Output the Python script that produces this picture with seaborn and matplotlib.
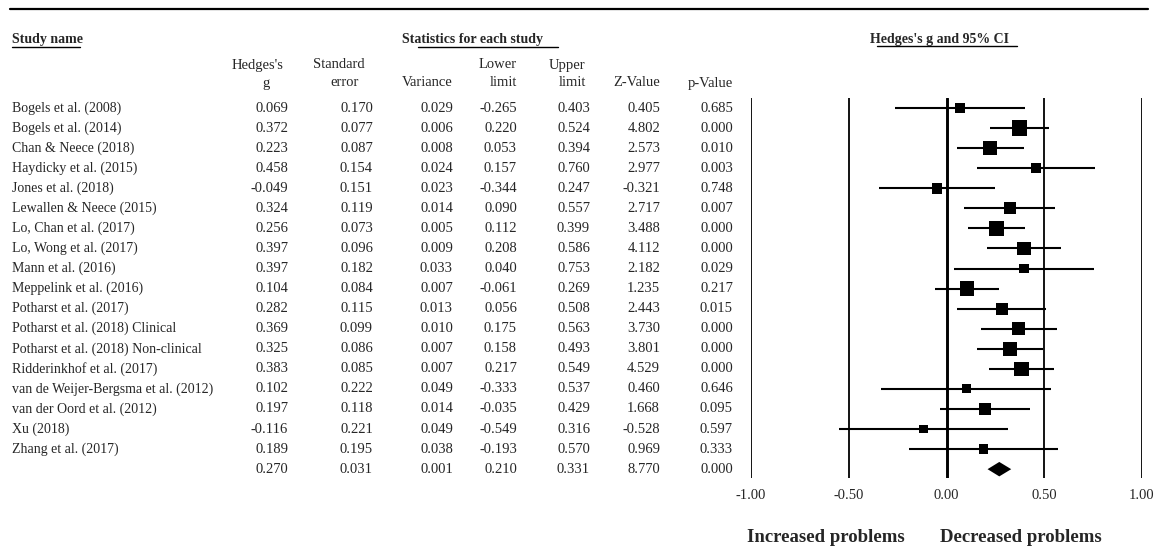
import numpy as np
import pandas as pd
import matplotlib
matplotlib.use("Agg")
import matplotlib.pyplot as plt
import matplotlib.transforms as mtransforms
import seaborn as sns

# study level data
studies = [
    "Bogels et al. (2008)", "Bogels et al. (2014)", "Chan & Neece (2018)",
    "Haydicky et al. (2015)", "Jones et al. (2018)", "Lewallen & Neece (2015)",
    "Lo, Chan et al. (2017)", "Lo, Wong et al. (2017)", "Mann et al. (2016)",
    "Meppelink et al. (2016)", "Potharst et al. (2017)",
    "Potharst et al. (2018) Clinical", "Potharst et al. (2018) Non-clinical",
    "Ridderinkhof et al. (2017)", "van de Weijer-Bergsma et al. (2012)",
    "van der Oord et al. (2012)", "Xu (2018)", "Zhang et al. (2017)",
]
hedges_g = [0.069, 0.372, 0.223, 0.458, -0.049, 0.324, 0.256, 0.397, 0.397,
            0.104, 0.282, 0.369, 0.325, 0.383, 0.102, 0.197, -0.116, 0.189]
std_err = [0.170, 0.077, 0.087, 0.154, 0.151, 0.119, 0.073, 0.096, 0.182,
           0.084, 0.115, 0.099, 0.086, 0.085, 0.222, 0.118, 0.221, 0.195]
variance = [0.029, 0.006, 0.008, 0.024, 0.023, 0.014, 0.005, 0.009, 0.033,
            0.007, 0.013, 0.010, 0.007, 0.007, 0.049, 0.014, 0.049, 0.038]
lower = [-0.265, 0.220, 0.053, 0.157, -0.344, 0.090, 0.112, 0.208, 0.040,
         -0.061, 0.056, 0.175, 0.158, 0.217, -0.333, -0.035, -0.549, -0.193]
upper = [0.403, 0.524, 0.394, 0.760, 0.247, 0.557, 0.399, 0.586, 0.753,
         0.269, 0.508, 0.563, 0.493, 0.549, 0.537, 0.429, 0.316, 0.570]
z_value = [0.405, 4.802, 2.573, 2.977, -0.321, 2.717, 3.488, 4.112, 2.182,
           1.235, 2.443, 3.730, 3.801, 4.529, 0.460, 1.668, -0.528, 0.969]
p_value = [0.685, 0.000, 0.010, 0.003, 0.748, 0.007, 0.000, 0.000, 0.029,
           0.217, 0.015, 0.000, 0.000, 0.000, 0.646, 0.095, 0.597, 0.333]

# pooled estimate (bottom row)
summary_stats = [0.270, 0.031, 0.001, 0.210, 0.331, 8.770, 0.000]

x_ticks = [-1.0, -0.5, 0.0, 0.5, 1.0]
x_tick_labels = ["-1.00", "-0.50", "0.00", "0.50", "1.00"]

sns.set_style("white")
plt.rcParams["font.family"] = ["Liberation Serif", "DejaVu Serif"]

W, H = 1158, 552
fig = plt.figure(figsize=(W / 100, H / 100), dpi=100)

# background axes in pixel units for the table layout
bg = fig.add_axes([0, 0, 1, 1])
bg.set_xlim(0, W)
bg.set_ylim(H, 0)
bg.axis("off")

# forest plot axes
fax = fig.add_axes([751 / W, 1 - 478 / H, (1142 - 751) / W, 380 / H])
n = len(studies)
rows = np.arange(n)
fax.set_xlim(-1, 1)
fax.set_ylim(18.44, -0.5)

df = pd.DataFrame({"study": studies, "g": hedges_g, "se": std_err,
                   "lo": lower, "hi": upper, "row": rows})

for xv in x_ticks:
    fax.axvline(xv, color="black", lw=2.1 if xv == 0 else 1.3, zorder=1)

fax.hlines(df["row"], df["lo"], df["hi"], color="black", lw=1.5, zorder=2)
side_px = 5.5 + 0.75 / df["se"]
sns.scatterplot(data=df, x="g", y="row", marker="s", color="black",
                s=(side_px * 0.72) ** 2, linewidth=0, legend=False,
                ax=fax, zorder=3)

# summary diamond
est, lo_s, hi_s = summary_stats[0], summary_stats[3], summary_stats[4]
fax.fill([lo_s, est, hi_s, est], [n, n - 0.36, n, n + 0.36],
         color="black", lw=0, zorder=3)

fax.set_xticks(x_ticks)
fax.set_xticklabels(x_tick_labels)
fax.set_yticks([])
fax.set_xlabel("")
fax.set_ylabel("")
fax.tick_params(axis="x", length=0, pad=8, labelsize=10.5)
for sp in fax.spines.values():
    sp.set_visible(False)
fax.patch.set_alpha(0)

# table text, rows tied to the forest axes y scale
blend = mtransforms.blended_transform_factory(bg.transData, fax.transData)
col_x = [288, 373, 453, 517, 590, 660, 733]
fs = 10.5
for i in range(n):
    bg.text(12, i, studies[i], transform=blend, ha="left", va="center", fontsize=10)
    vals = [hedges_g[i], std_err[i], variance[i], lower[i], upper[i],
            z_value[i], p_value[i]]
    for cx, v in zip(col_x, vals):
        bg.text(cx, i, f"{v:.3f}", transform=blend, ha="right", va="center",
                fontsize=fs)
for cx, v in zip(col_x, summary_stats):
    bg.text(cx, n, f"{v:.3f}", transform=blend, ha="right", va="center",
            fontsize=fs)

# column headers
headers = [
    ("Hedges's", 258, "center", 65), ("g", 266, "center", 83),
    ("Standard", 339, "center", 65), ("error", 345, "center", 83),
    ("Variance", 453, "right", 83),
    ("Lower", 517, "right", 65), ("limit", 517, "right", 83),
    ("Upper", 585, "right", 65), ("limit", 586, "right", 83),
    ("Z-Value", 660, "right", 83), ("p-Value", 733, "right", 83),
]
for txt, x, ha, y in headers:
    bg.text(x, y, txt, ha=ha, va="center", fontsize=fs)

# titles with underlines
bg.text(12, 39, "Study name", ha="left", va="center", fontsize=10, weight="bold")
bg.plot([12, 80], [46.5, 46.5], color="black", lw=1)
bg.text(472, 39, "Statistics for each study", ha="center", va="center",
        fontsize=10, weight="bold")
bg.plot([418, 558], [46.5, 46.5], color="black", lw=1)
bg.text(940, 39, "Hedges's g and 95% CI", ha="center", va="center",
        fontsize=10, weight="bold")
bg.plot([877, 1017], [46, 46], color="black", lw=1)

# top rule
bg.plot([10, 1148], [9, 9], color="black", lw=1.6)

# direction labels
bg.text(826, 537, "Increased problems", ha="center", va="center",
        fontsize=13.5, weight="bold")
bg.text(1021, 537, "Decreased problems", ha="center", va="center",
        fontsize=13.5, weight="bold")

fig.savefig("out.png", dpi=100)
